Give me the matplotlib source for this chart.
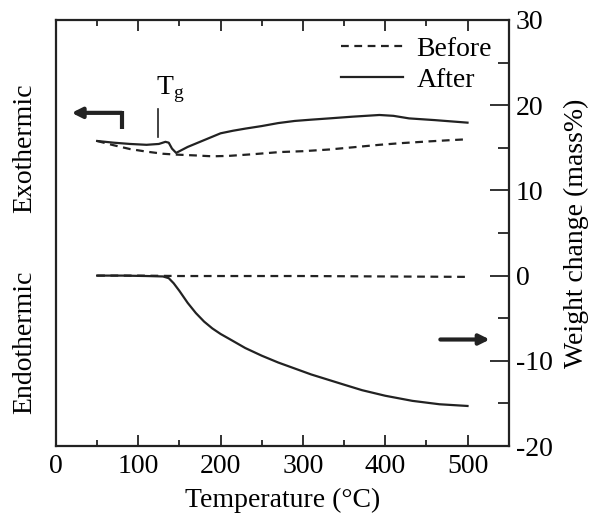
import numpy as np
import matplotlib.pyplot as plt
from matplotlib.lines import Line2D

plt.rcParams['font.family'] = ['Liberation Serif', 'DejaVu Serif']
plt.rcParams['mathtext.fontset'] = 'custom'
plt.rcParams['mathtext.rm'] = 'Liberation Serif'

# DSC curves (plotted in right-axis units, arbitrary heat flow)
dsc_before_t = [50, 70, 90, 110, 130, 146, 170, 190, 210, 240, 272, 300, 332, 360, 393, 420, 453, 480, 500]
dsc_before_y = [15.8, 15.3, 14.85, 14.55, 14.3, 14.2, 14.1, 14.0, 14.05, 14.25, 14.5, 14.6, 14.8, 15.05, 15.35, 15.55, 15.75, 15.9, 16.0]
dsc_after_t = [50, 70, 90, 110, 125, 133, 137, 141, 146, 152, 160, 175, 190, 200, 215, 230, 250, 270, 290, 310,
               332, 360, 393, 410, 429, 460, 480, 500]
dsc_after_y = [15.8, 15.6, 15.45, 15.35, 15.45, 15.7, 15.6, 14.9, 14.4, 14.7, 15.1, 15.7, 16.3, 16.7, 17.0, 17.25,
               17.55, 17.9, 18.15, 18.3, 18.45, 18.65, 18.85, 18.75, 18.45, 18.25, 18.1, 17.95]

# TG curves (weight change, mass%)
tg_before_t = [50, 100, 150, 200, 300, 400, 500]
tg_before_y = [0.0, 0.0, -0.05, -0.05, -0.05, -0.1, -0.15]
tg_after_t = [50, 80, 110, 130, 137, 143, 150, 160, 170, 180, 190, 200, 211, 230, 250, 270, 290, 310,
              330, 350, 372, 400, 433, 466, 500]
tg_after_y = [0.0, 0.0, -0.05, -0.1, -0.3, -0.9, -1.8, -3.2, -4.4, -5.4, -6.2, -6.85, -7.45, -8.5, -9.4, -10.2,
              -10.9, -11.6, -12.2, -12.8, -13.45, -14.1, -14.7, -15.1, -15.3]

fig = plt.figure(figsize=(5.98, 5.23), dpi=100)
ax = fig.add_axes([0.0936, 0.1472, 0.757, 0.8146])

lw = 1.6
dash = (0, (3.5, 2.5))
ax.plot(dsc_before_t, dsc_before_y, color='#222222', lw=lw, ls=dash)
ax.plot(dsc_after_t, dsc_after_y, color='#222222', lw=lw)
ax.plot(tg_before_t, tg_before_y, color='#222222', lw=lw, ls=dash)
ax.plot(tg_after_t, tg_after_y, color='#222222', lw=lw)

ax.set_xlim(0, 550)
ax.set_ylim(-20, 30)
ax.set_xticks(np.arange(0, 501, 100))
ax.set_xticks(np.arange(50, 501, 100), minor=True)
ax.set_yticks(np.arange(-20, 31, 10))
ax.set_yticks(np.arange(-15, 30, 10), minor=True)
ax.set_yticklabels(['-20', '-10', '0', '10', '20', '30'])

ax.tick_params(axis='x', which='both', direction='in', top=True, bottom=True,
               labelsize=20, pad=6, width=1.3, color='#222222')
ax.tick_params(axis='x', which='major', length=8)
ax.tick_params(axis='x', which='minor', length=4)
ax.tick_params(axis='y', which='both', direction='in', left=False, right=True,
               labelleft=False, labelright=True, labelsize=20, pad=5, width=1.3, color='#222222')
ax.tick_params(axis='y', which='major', length=14)
ax.tick_params(axis='y', which='minor', length=8)
for s in ax.spines.values():
    s.set_linewidth(1.6)
    s.set_color('#222222')

ax.set_xlabel('Temperature (°C)', fontsize=20, labelpad=6)
ax.yaxis.set_label_position('right')
ax.set_ylabel('Weight change (mass%)', fontsize=20, labelpad=8)

# Exo / Endo labels
fig.text(25 / 598, 1 - 148 / 523, 'Exothermic', rotation=90, fontsize=20, ha='center', va='center')
fig.text(25 / 598, 1 - 342 / 523, 'Endothermic', rotation=90, fontsize=20, ha='center', va='center')

# Arrows
ax.annotate('', xy=(19, 19.1), xytext=(80, 19.1),
            arrowprops=dict(arrowstyle='-|>,head_length=0.6,head_width=0.3', lw=3, color='#222222',
                            shrinkA=0, shrinkB=0))
ax.plot([80, 80], [19.3, 17.2], color='#222222', lw=3, solid_capstyle='butt')
ax.annotate('', xy=(527, -7.5), xytext=(467, -7.5),
            arrowprops=dict(arrowstyle='-|>,head_length=0.6,head_width=0.3', lw=3, color='#222222',
                            shrinkA=0, shrinkB=0))

# Tg marker
ax.plot([124, 124], [19.6, 16.3], color='#222222', lw=1.2)
ax.text(121, 20.0, r'T$_\mathregular{g}$', fontsize=20, ha='left', va='bottom')

# Legend
handles = [Line2D([], [], color='#222222', lw=lw, ls=dash),
           Line2D([], [], color='#222222', lw=lw)]
ax.legend(handles, ['Before', 'After'], loc='upper right', frameon=False, fontsize=20,
          handlelength=2.2, handletextpad=0.5, labelspacing=0.2,
          bbox_to_anchor=(1.0, 1.0), borderaxespad=0.2)

fig.savefig('out.png', dpi=100)
